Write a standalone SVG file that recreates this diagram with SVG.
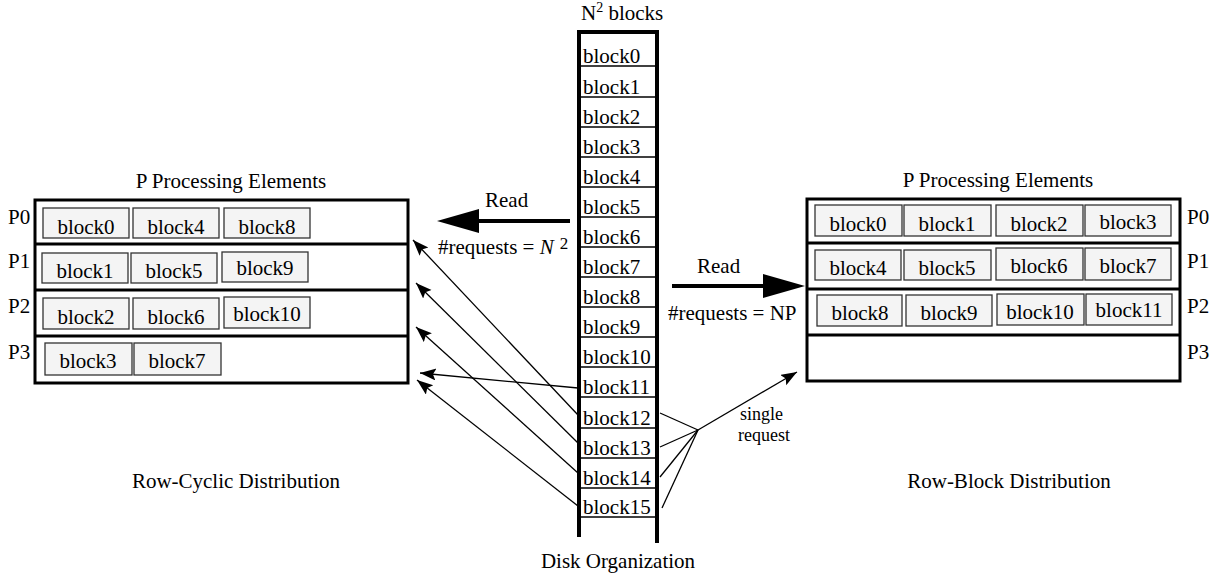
<svg xmlns="http://www.w3.org/2000/svg" width="1219" height="576" viewBox="0 0 1219 576" font-family="'Liberation Serif','Times New Roman','DejaVu Serif',serif">
<style>
text{font-family:"Liberation Serif","Times New Roman","DejaVu Serif",serif;font-size:21px;fill:#000}
text.sm{font-size:18px}
.c{text-anchor:middle}
.frame{fill:#fff;stroke:#000;stroke-width:3}
.div{stroke:#000;stroke-width:3}
.cell{fill:#f4f4f4;stroke:#333;stroke-width:1.3}
.sep{stroke:#000;stroke-width:1.5}
.col{stroke:#000;stroke-width:4}
.thin{stroke:#000;stroke-width:1.3;fill:none;marker-end:url(#ah)}
.fan{stroke:#000;stroke-width:1.3;fill:none}
</style>
<defs>
<marker id="ah" markerUnits="userSpaceOnUse" markerWidth="18" markerHeight="14" refX="16" refY="6" orient="auto">
<path d="M0,0 L16,6 L0,12 L3,6 z" fill="#000"/>
</marker>
</defs>
<rect width="1219" height="576" fill="#fff"/>

<g id="disk">
<text x="581" y="20">N<tspan font-size="14" dy="-8">2</tspan><tspan dy="8"> blocks</tspan></text>
<line class="col" x1="577" y1="32" x2="659" y2="32"/>
<line class="col" x1="579" y1="30" x2="579" y2="537"/>
<line class="col" x1="657" y1="30" x2="657" y2="543"/>
<g class="sep">
<line x1="579" y1="66" x2="657" y2="66"/>
<line x1="579" y1="97" x2="657" y2="97"/>
<line x1="579" y1="127" x2="657" y2="127"/>
<line x1="579" y1="157" x2="657" y2="157"/>
<line x1="579" y1="187" x2="657" y2="187"/>
<line x1="579" y1="217" x2="657" y2="217"/>
<line x1="579" y1="247" x2="657" y2="247"/>
<line x1="579" y1="277" x2="657" y2="277"/>
<line x1="579" y1="307" x2="657" y2="307"/>
<line x1="579" y1="337" x2="657" y2="337"/>
<line x1="579" y1="367" x2="657" y2="367"/>
<line x1="579" y1="397" x2="657" y2="397"/>
<line x1="579" y1="428" x2="657" y2="428"/>
<line x1="579" y1="458" x2="657" y2="458"/>
<line x1="579" y1="488" x2="657" y2="488"/>
<line x1="579" y1="517" x2="657" y2="517"/>
</g>
<text x="583" y="63">block0</text>
<text x="583" y="94">block1</text>
<text x="583" y="124">block2</text>
<text x="583" y="154">block3</text>
<text x="583" y="184">block4</text>
<text x="583" y="214">block5</text>
<text x="583" y="244">block6</text>
<text x="583" y="274">block7</text>
<text x="583" y="304">block8</text>
<text x="583" y="334">block9</text>
<text x="583" y="364">block10</text>
<text x="583" y="394">block11</text>
<text x="583" y="425">block12</text>
<text x="583" y="455">block13</text>
<text x="583" y="485">block14</text>
<text x="583" y="514">block15</text>
<text class="c" x="618" y="568">Disk Organization</text>
</g>

<g id="row-cyclic">
<text class="c" x="231" y="188">P Processing Elements</text>
<rect class="frame" x="35" y="200" width="373" height="183"/>
<line class="div" x1="35" y1="244" x2="408" y2="244"/>
<line class="div" x1="35" y1="290" x2="408" y2="290"/>
<line class="div" x1="35" y1="336" x2="408" y2="336"/>
<text x="8" y="224">P0</text>
<text x="8" y="268">P1</text>
<text x="8" y="313">P2</text>
<text x="8" y="359">P3</text>
<rect class="cell" x="43" y="208" width="86" height="30"/>
<rect class="cell" x="133" y="208" width="86" height="30"/>
<rect class="cell" x="224" y="208" width="86" height="30"/>
<text class="c" x="86" y="234">block0</text>
<text class="c" x="176" y="234">block4</text>
<text class="c" x="267" y="234">block8</text>
<rect class="cell" x="42" y="253" width="86" height="30"/>
<rect class="cell" x="131" y="253" width="86" height="30"/>
<rect class="cell" x="222" y="252" width="86" height="30"/>
<text class="c" x="85" y="278">block1</text>
<text class="c" x="174" y="278">block5</text>
<text class="c" x="265" y="275">block9</text>
<rect class="cell" x="43" y="298" width="86" height="31"/>
<rect class="cell" x="133" y="298" width="86" height="31"/>
<rect class="cell" x="224" y="297" width="86" height="31"/>
<text class="c" x="86" y="324">block2</text>
<text class="c" x="176" y="324">block6</text>
<text class="c" x="267" y="321">block10</text>
<rect class="cell" x="45" y="343" width="87" height="32"/>
<rect class="cell" x="134" y="343" width="87" height="32"/>
<text class="c" x="88" y="368">block3</text>
<text class="c" x="177" y="368">block7</text>
<text class="c" x="236" y="488">Row-Cyclic Distribution</text>
</g>

<g id="row-block">
<text class="c" x="998" y="187">P Processing Elements</text>
<rect class="frame" x="807" y="199" width="373" height="182"/>
<line class="div" x1="807" y1="243" x2="1180" y2="243"/>
<line class="div" x1="807" y1="289" x2="1180" y2="289"/>
<line class="div" x1="807" y1="335" x2="1180" y2="335"/>
<text x="1187" y="224">P0</text>
<text x="1187" y="268">P1</text>
<text x="1187" y="313">P2</text>
<text x="1187" y="359">P3</text>
<rect class="cell" x="815" y="205" width="87" height="31"/>
<rect class="cell" x="904" y="205" width="87" height="31"/>
<rect class="cell" x="996" y="205" width="87" height="31"/>
<rect class="cell" x="1085" y="205" width="86" height="31"/>
<text class="c" x="858" y="231">block0</text>
<text class="c" x="947" y="231">block1</text>
<text class="c" x="1039" y="231">block2</text>
<text class="c" x="1128" y="229">block3</text>
<rect class="cell" x="815" y="250" width="86" height="30"/>
<rect class="cell" x="904" y="250" width="87" height="30"/>
<rect class="cell" x="996" y="248" width="87" height="32"/>
<rect class="cell" x="1085" y="248" width="86" height="32"/>
<text class="c" x="858" y="275">block4</text>
<text class="c" x="947" y="275">block5</text>
<text class="c" x="1039" y="273">block6</text>
<text class="c" x="1128" y="273">block7</text>
<rect class="cell" x="817" y="295" width="85" height="31"/>
<rect class="cell" x="906" y="295" width="86" height="31"/>
<rect class="cell" x="997" y="294" width="87" height="31"/>
<rect class="cell" x="1086" y="294" width="86" height="31"/>
<text class="c" x="860" y="320">block8</text>
<text class="c" x="949" y="320">block9</text>
<text class="c" x="1040" y="319">block10</text>
<text class="c" x="1129" y="317">block11</text>
<text class="c" x="1009" y="488">Row-Block Distribution</text>
</g>

<g id="connectors">
<line x1="570" y1="221" x2="476" y2="221" stroke="#000" stroke-width="4"/>
<polygon points="437,221 479,209 479,233" fill="#000"/>
<text x="485" y="207">Read</text>
<text x="438" y="254">#requests = <tspan font-style="italic">N</tspan><tspan font-size="17" dx="6" dy="-5">2</tspan></text>
<line x1="672" y1="286" x2="766" y2="286" stroke="#000" stroke-width="4"/>
<polygon points="805,286 763,274 763,298" fill="#000"/>
<text x="697" y="273">Read</text>
<text x="668" y="320">#requests = NP</text>
<line class="thin" x1="578" y1="415" x2="413" y2="240"/>
<line class="thin" x1="578" y1="443" x2="416" y2="283"/>
<line class="thin" x1="578" y1="473" x2="416" y2="327"/>
<line class="thin" x1="578" y1="388" x2="420" y2="373"/>
<line class="thin" x1="578" y1="506" x2="417" y2="380"/>
<line class="fan" x1="660" y1="413" x2="698" y2="430"/>
<line class="fan" x1="660" y1="447" x2="698" y2="430"/>
<line class="fan" x1="660" y1="477" x2="698" y2="430"/>
<line class="fan" x1="662" y1="508" x2="698" y2="430"/>
<line class="thin" x1="698" y1="430" x2="797" y2="372"/>
<text class="sm" x="740" y="420">single</text>
<text class="sm" x="738" y="441">request</text>
</g>
</svg>
